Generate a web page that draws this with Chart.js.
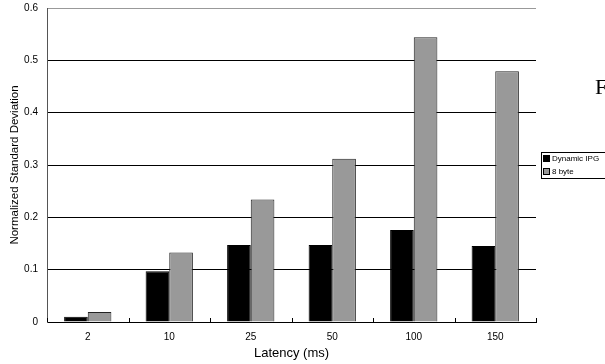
<!DOCTYPE html>
<html>
<head>
<meta charset="utf-8">
<script src="https://cdn.jsdelivr.net/npm/chart.js@4"></script>
<style>
  html, body { margin: 0; padding: 0; background: #fff; }
  #wrap { width: 605px; height: 364px; }
</style>
</head>
<body>
<div id="wrap"><canvas id="latChart"></canvas></div>
<script>
// ---------- DATA ----------
const latencies = ['2', '10', '25', '50', '100', '150'];
const dynamicIPG = [0.010, 0.097, 0.147, 0.147, 0.176, 0.145];
const eightByte = [0.019, 0.133, 0.234, 0.312, 0.544, 0.479];
const yTicks = [0, 0.1, 0.2, 0.3, 0.4, 0.5, 0.6];

const FONT = 'Liberation Sans';

// small tick marks between categories, sitting above the x axis
const catTicks = {
  id: 'catTicks',
  afterDatasetsDraw(chart) {
    const ctx = chart.ctx;
    const a = chart.chartArea;
    const step = (a.right - a.left) / latencies.length;
    ctx.save();
    ctx.strokeStyle = '#000';
    ctx.lineWidth = 1;
    for (let i = 0; i <= latencies.length; i++) {
      const px = Math.round(a.left + step * i) + 0.5;
      ctx.beginPath();
      ctx.moveTo(px, a.bottom);
      ctx.lineTo(px, a.bottom - 4);
      ctx.stroke();
    }
    ctx.restore();
  }
};

// boxed legend at the right + stray "F"
const sideLegend = {
  id: 'sideLegend',
  afterDraw(chart) {
    const ctx = chart.ctx;
    ctx.save();
    ctx.strokeStyle = '#000';
    ctx.lineWidth = 1;
    ctx.strokeRect(541.5, 152.5, 70, 26);
    chart.data.datasets.forEach((ds, i) => {
      const y = 155 + i * 13;
      ctx.fillStyle = ds.backgroundColor;
      ctx.fillRect(543, y, 7, 7);
      ctx.strokeStyle = '#000';
      ctx.strokeRect(543.5, y + 0.5, 6, 6);
      ctx.fillStyle = '#000';
      ctx.font = '8px ' + FONT;
      ctx.textBaseline = 'middle';
      ctx.fillText(ds.label, 552, y + 4);
    });
    ctx.font = '22px "Liberation Serif"';
    ctx.fillStyle = '#000';
    ctx.textBaseline = 'alphabetic';
    ctx.fillText('F', 595, 94);
    ctx.restore();
  }
};

new Chart(document.getElementById('latChart'), {
  type: 'bar',
  data: {
    labels: latencies,
    datasets: [
      {
        label: 'Dynamic IPG',
        data: dynamicIPG,
        backgroundColor: '#000000',
        borderColor: '#000000',
        borderWidth: 1
      },
      {
        label: '8 byte',
        data: eightByte,
        backgroundColor: '#999999',
        borderColor: '#222222',
        borderWidth: 1
      }
    ]
  },
  options: {
    responsive: true,
    maintainAspectRatio: false,
    animation: false,
    layout: { padding: { left: 0, top: 8, right: 69, bottom: 0 } },
    categoryPercentage: 0.58,
    barPercentage: 1.0,
    plugins: {
      legend: { display: false },
      tooltip: { enabled: false }
    },
    scales: {
      x: {
        afterFit: (s) => { s.height = 42; },
        grid: { display: false, drawTicks: false },
        border: { display: true, color: '#000', width: 1 },
        ticks: { color: '#000', font: { family: FONT, size: 10 }, padding: 9 },
        title: {
          display: true,
          text: 'Latency (ms)',
          color: '#000',
          font: { family: FONT, size: 13 },
          padding: { top: 0, bottom: 3 }
        }
      },
      y: {
        min: 0,
        max: 0.6,
        afterFit: (s) => { s.width = 47; s.paddingTop = 0; s.paddingBottom = 0; },
        afterBuildTicks: (s) => { s.ticks = yTicks.map(v => ({ value: v })); },
        grid: {
          drawTicks: false,
          color: (c) => (c.tick && c.tick.value >= 0.6 ? '#999' : '#000'),
          lineWidth: 1
        },
        border: { display: true, color: '#555', width: 1 },
        ticks: {
          color: '#000',
          font: { family: FONT, size: 10 },
          padding: 9,
          callback: (v) => String(Math.round(v * 10) / 10)
        },
        title: {
          display: true,
          text: 'Normalized Standard Deviation',
          color: '#000',
          font: { family: FONT, size: 11.5 },
          padding: { top: 8, bottom: 0 }
        }
      }
    }
  },
  plugins: [catTicks, sideLegend]
});
</script>
</body>
</html>
